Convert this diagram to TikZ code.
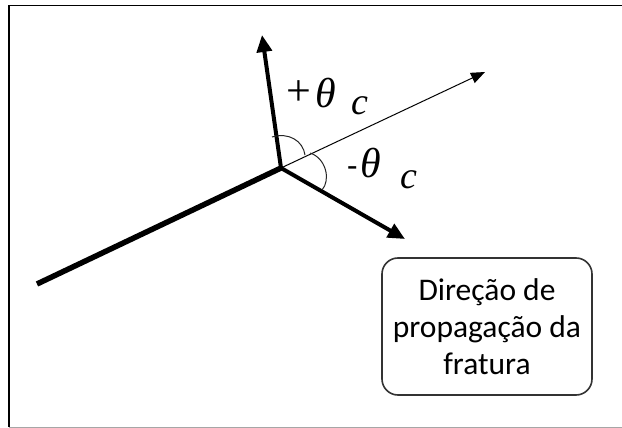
\documentclass[tikz,border=0pt]{standalone}
\usepackage{fontspec}
\setmainfont{Carlito}
\newfontfamily\serifgr{Liberation Serif}
\usetikzlibrary{arrows.meta}
\begin{document}
\begin{tikzpicture}[x=1pt,y=-1pt,
  thickarrow/.style={line width=4pt,-{Triangle[length=17pt,width=15pt]}},
  thinarrow/.style={line width=1pt,-{Triangle[length=14pt,width=11pt]}},
  crack/.style={line width=5.5pt},
  anglearc/.style={line width=1pt,draw=black!85},
  sgn/.style={inner sep=0pt,anchor=center,font=\fontsize{44}{46}\selectfont\serifgr},
  hyph/.style={inner sep=0pt,anchor=base west,font=\fontsize{34}{36}\selectfont},
  th/.style={inner sep=0pt,anchor=base west,font=\fontsize{42}{44}\selectfont\serifgr\itshape},
  sub/.style={inner sep=0pt,anchor=base west,font=\fontsize{38}{40}\selectfont\serifgr\itshape},
  infobox/.style={draw=black!80,line width=1.6pt,rounded corners=16pt,minimum width=210pt,minimum height=137pt,inner sep=0pt,align=center,font=\fontsize{31.5}{37}\selectfont}
]
\useasboundingbox (0,0) rectangle (622,428);
\fill[white] (0,0) rectangle (622,428);
% frame
\draw[line width=1.5pt,black] (9,427) -- (9,5.75) -- (622,5.75);
\draw[line width=1pt,black!35] (9,427) -- (622,427);
% points
\coordinate (O) at (281,168);
\coordinate (S) at (37,284);
\coordinate (U) at (262,35);
\coordinate (T) at (485,72);
\coordinate (L) at (405,239);
% crack
\draw[crack] (S) -- (O);
\draw[thickarrow] (O) -- (U);
\draw[thickarrow] (O) -- (L);
\draw[thinarrow] (O) -- (T);
% angle arcs
\coordinate (a1) at (272,137);
\coordinate (a2) at (305,155);
\coordinate (b1) at (310,153);
\coordinate (b2) at (322,190);
\draw[anglearc] (a1) .. controls (289,132) and (303,141) .. (a2);
\draw[anglearc] (b1) .. controls (326,158) and (331,180) .. (b2);
% labels
\node[sgn] (plus) at (299,95) {\raisebox{0pt}[0.55em][0.05em]{+}};
\node[th] (th1) at (315,107) {θ};
\node[sub] (c1) at (351,115) {c};
\node[hyph] (minus) at (347,177) {-};
\node[th] (th2) at (360,178) {θ};
\node[sub] (c2) at (400,188) {c};
% box
\node[infobox] (box) at (487,326.5) {Direção de\\propagação da\\fratura};
\end{tikzpicture}
\end{document}
